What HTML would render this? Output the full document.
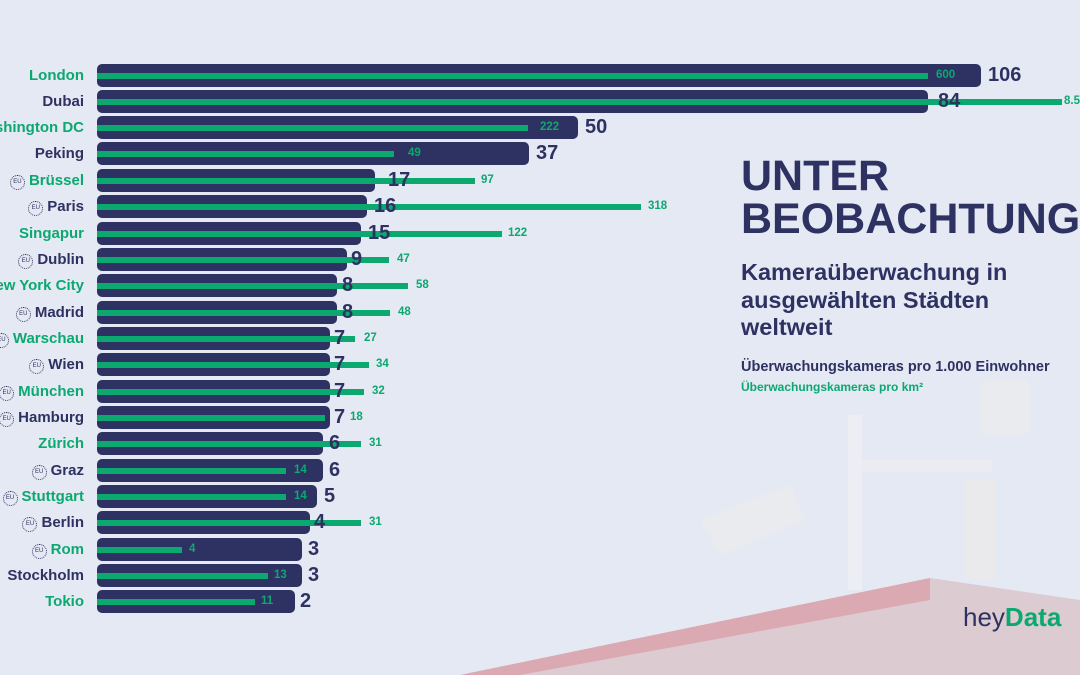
<!DOCTYPE html>
<html><head><meta charset="utf-8"><style>
*{margin:0;padding:0;box-sizing:border-box}
body{width:1080px;height:675px;overflow:hidden;background:#e5e9f3;font-family:"Liberation Sans",sans-serif;position:relative}
.r{position:absolute;left:0;width:1080px;height:23px}
.l{position:absolute;right:996px;top:2px;font-weight:bold;font-size:15px;white-space:nowrap;line-height:19px}
.g .l{color:#0ba870}.d .l{color:#2e3262}
.eu{display:inline-block;width:15px;height:15px;border:1.5px dotted #2e3262;border-radius:50%;font-size:6px;line-height:12px;text-align:center;color:#2e3262;vertical-align:2px;margin-right:4px;font-weight:normal}
.b{position:absolute;left:97px;top:0;height:23px;background:#2e3262;border-radius:5px}
.gl{position:absolute;left:97px;top:9px;height:6px;background:#0ba870}
.v{position:absolute;top:0;font-weight:bold;font-size:20px;color:#2e3262;line-height:23px}
.gv{position:absolute;top:5px;font-weight:bold;font-size:11.5px;color:#0ba870;line-height:13px}
</style></head><body>
<svg style="position:absolute;left:0;top:0" width="1080" height="675">
<polygon points="460,675 930,578 1080,600 1080,675" fill="#dccbd0"/>
<polygon points="460,675 930,578 930,600 520,675" fill="#dba9b1"/>
<rect x="848" y="415" width="14" height="175" fill="#eceef3"/>
<rect x="862" y="460" width="130" height="12" fill="#eaecf1"/>
<rect x="980" y="380" width="50" height="55" rx="8" fill="#e9ebef"/>
<rect x="965" y="480" width="30" height="100" fill="#eaeaec"/>
<polygon points="700,520 790,485 805,520 720,555" fill="#e9ebef"/>
</svg>
<div class="r g" style="top:64px"><div class="l">London</div><div class="b" style="width:884px"></div><div class="gl" style="width:831px"></div><div class="gv" style="left:936px">600</div><div class="v" style="left:988px">106</div></div>
<div class="r d" style="top:90px"><div class="l">Dubai</div><div class="b" style="width:831px"></div><div class="gl" style="width:965px"></div><div class="v" style="left:938px">84</div><div class="gv" style="left:1064px">8.5</div></div>
<div class="r g" style="top:116px"><div class="l">Washington DC</div><div class="b" style="width:481px"></div><div class="gl" style="width:431px"></div><div class="gv" style="left:540px">222</div><div class="v" style="left:585px">50</div></div>
<div class="r d" style="top:142px"><div class="l">Peking</div><div class="b" style="width:432px"></div><div class="gl" style="width:297px"></div><div class="gv" style="left:408px">49</div><div class="v" style="left:536px">37</div></div>
<div class="r g" style="top:169px"><div class="l"><span class="eu">EU</span>Brüssel</div><div class="b" style="width:278px"></div><div class="gl" style="width:378px"></div><div class="v" style="left:388px">17</div><div class="gv" style="left:481px">97</div></div>
<div class="r d" style="top:195px"><div class="l"><span class="eu">EU</span>Paris</div><div class="b" style="width:270px"></div><div class="gl" style="width:544px"></div><div class="v" style="left:374px">16</div><div class="gv" style="left:648px">318</div></div>
<div class="r g" style="top:222px"><div class="l">Singapur</div><div class="b" style="width:264px"></div><div class="gl" style="width:405px"></div><div class="v" style="left:368px">15</div><div class="gv" style="left:508px">122</div></div>
<div class="r d" style="top:248px"><div class="l"><span class="eu">EU</span>Dublin</div><div class="b" style="width:250px"></div><div class="gl" style="width:292px"></div><div class="v" style="left:351px">9</div><div class="gv" style="left:397px">47</div></div>
<div class="r g" style="top:274px"><div class="l">New York City</div><div class="b" style="width:240px"></div><div class="gl" style="width:311px"></div><div class="v" style="left:342px">8</div><div class="gv" style="left:416px">58</div></div>
<div class="r d" style="top:301px"><div class="l"><span class="eu">EU</span>Madrid</div><div class="b" style="width:240px"></div><div class="gl" style="width:293px"></div><div class="v" style="left:342px">8</div><div class="gv" style="left:398px">48</div></div>
<div class="r g" style="top:327px"><div class="l"><span class="eu">EU</span>Warschau</div><div class="b" style="width:233px"></div><div class="gl" style="width:258px"></div><div class="v" style="left:334px">7</div><div class="gv" style="left:364px">27</div></div>
<div class="r d" style="top:353px"><div class="l"><span class="eu">EU</span>Wien</div><div class="b" style="width:233px"></div><div class="gl" style="width:272px"></div><div class="v" style="left:334px">7</div><div class="gv" style="left:376px">34</div></div>
<div class="r g" style="top:380px"><div class="l"><span class="eu">EU</span>München</div><div class="b" style="width:233px"></div><div class="gl" style="width:267px"></div><div class="v" style="left:334px">7</div><div class="gv" style="left:372px">32</div></div>
<div class="r d" style="top:406px"><div class="l"><span class="eu">EU</span>Hamburg</div><div class="b" style="width:233px"></div><div class="gl" style="width:228px"></div><div class="v" style="left:334px">7</div><div class="gv" style="left:350px">18</div></div>
<div class="r g" style="top:432px"><div class="l">Zürich</div><div class="b" style="width:226px"></div><div class="gl" style="width:264px"></div><div class="v" style="left:329px">6</div><div class="gv" style="left:369px">31</div></div>
<div class="r d" style="top:459px"><div class="l"><span class="eu">EU</span>Graz</div><div class="b" style="width:226px"></div><div class="gl" style="width:189px"></div><div class="gv" style="left:294px">14</div><div class="v" style="left:329px">6</div></div>
<div class="r g" style="top:485px"><div class="l"><span class="eu">EU</span>Stuttgart</div><div class="b" style="width:220px"></div><div class="gl" style="width:189px"></div><div class="gv" style="left:294px">14</div><div class="v" style="left:324px">5</div></div>
<div class="r d" style="top:511px"><div class="l"><span class="eu">EU</span>Berlin</div><div class="b" style="width:213px"></div><div class="gl" style="width:264px"></div><div class="v" style="left:314px">4</div><div class="gv" style="left:369px">31</div></div>
<div class="r g" style="top:538px"><div class="l"><span class="eu">EU</span>Rom</div><div class="b" style="width:205px"></div><div class="gl" style="width:85px"></div><div class="gv" style="left:189px">4</div><div class="v" style="left:308px">3</div></div>
<div class="r d" style="top:564px"><div class="l">Stockholm</div><div class="b" style="width:205px"></div><div class="gl" style="width:171px"></div><div class="gv" style="left:274px">13</div><div class="v" style="left:308px">3</div></div>
<div class="r g" style="top:590px"><div class="l">Tokio</div><div class="b" style="width:198px"></div><div class="gl" style="width:158px"></div><div class="gv" style="left:261px">11</div><div class="v" style="left:300px">2</div></div>
<div style="position:absolute;left:741px;top:155px;font-weight:bold;font-size:43px;line-height:43px;color:#2e3262;white-space:nowrap">UNTER<br>BEOBACHTUNG</div>
<div style="position:absolute;left:741px;top:259px;font-weight:bold;font-size:23.5px;line-height:27.5px;color:#2e3262;white-space:nowrap">Kameraüberwachung in<br>ausgewählten Städten<br>weltweit</div>
<div style="position:absolute;left:741px;top:359px;font-weight:bold;font-size:14.5px;color:#2e3262;white-space:nowrap">Überwachungskameras pro 1.000 Einwohner</div>
<div style="position:absolute;left:741px;top:380px;font-weight:bold;font-size:12px;color:#0ba870;white-space:nowrap">Überwachungskameras pro km²</div>
<div style="position:absolute;left:963px;top:602px;font-size:26px;color:#2e3262;white-space:nowrap">hey<span style="color:#0ba870;font-weight:bold">Data</span></div>
</body></html>
